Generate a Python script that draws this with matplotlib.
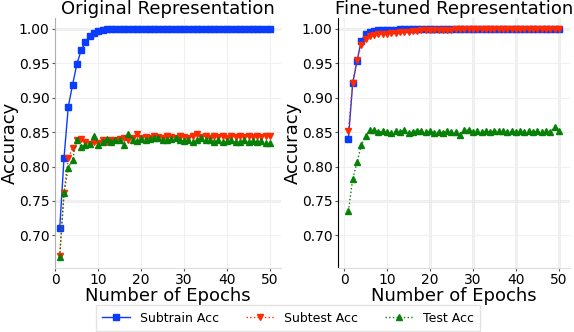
import numpy as np
import matplotlib
matplotlib.use("Agg")
import matplotlib.pyplot as plt

epochs = list(range(1, 51))

# original representation
orig_subtrain = [0.710, 0.812, 0.887, 0.919, 0.949, 0.969, 0.981, 0.990, 0.994, 0.997,
                 0.999, 0.9995] + [1.0] * 38
orig_subtest = [0.670, 0.762, 0.812, 0.827, 0.838, 0.840, 0.836, 0.833, 0.836, 0.834,
                0.838, 0.836, 0.839, 0.838, 0.840, 0.842, 0.838, 0.841, 0.847, 0.842,
                0.843, 0.841, 0.845, 0.843, 0.842, 0.844, 0.843, 0.842, 0.845, 0.843,
                0.842, 0.844, 0.847, 0.843, 0.844, 0.842, 0.845, 0.843, 0.844, 0.842,
                0.844, 0.843, 0.844, 0.843, 0.844, 0.843, 0.844, 0.843, 0.844, 0.845]
orig_test = [0.669, 0.762, 0.798, 0.810, 0.839, 0.829, 0.832, 0.833, 0.845, 0.832,
             0.835, 0.840, 0.835, 0.838, 0.838, 0.831, 0.847, 0.838, 0.837, 0.840,
             0.839, 0.840, 0.841, 0.841, 0.838, 0.838, 0.840, 0.841, 0.838, 0.837,
             0.839, 0.835, 0.838, 0.841, 0.839, 0.839, 0.835, 0.838, 0.836, 0.837,
             0.838, 0.835, 0.836, 0.838, 0.836, 0.837, 0.836, 0.837, 0.834, 0.834]

# fine-tuned representation
ft_subtrain = [0.840, 0.921, 0.953, 0.983, 0.993, 0.996, 0.997, 0.998, 0.998, 0.999,
               0.999, 0.999, 0.9995, 0.9995, 0.9995] + [1.0] * 35
ft_subtest = [0.851, 0.922, 0.955, 0.977, 0.986, 0.990, 0.991, 0.992, 0.992, 0.993,
              0.994, 0.994, 0.995, 0.996, 0.996, 0.997, 0.997, 0.998, 0.998, 0.998,
              0.9985, 0.999, 0.999, 0.999, 0.999] + [0.9995] * 25
ft_test = [0.735, 0.782, 0.806, 0.831, 0.844, 0.853, 0.853, 0.850, 0.851, 0.850,
           0.849, 0.851, 0.850, 0.853, 0.849, 0.850, 0.852, 0.851, 0.850, 0.851,
           0.849, 0.850, 0.849, 0.851, 0.850, 0.850, 0.846, 0.853, 0.853, 0.850,
           0.851, 0.850, 0.851, 0.850, 0.851, 0.852, 0.851, 0.850, 0.851, 0.850,
           0.852, 0.850, 0.851, 0.850, 0.851, 0.850, 0.851, 0.850, 0.857, 0.851]

titles = ["Original Representation", "Fine-tuned Representation"]
yticks = [0.70, 0.75, 0.80, 0.85, 0.90, 0.95, 1.00]
xticks = [0, 10, 20, 30, 40, 50]

c_blue = "#0a3cff"
c_red = "#ff2a00"
c_green = "#078007"

plt.rcParams['font.family'] = ['DejaVu Sans']
fig = plt.figure(figsize=(5.74, 3.32), dpi=100)
ax1 = fig.add_axes([0.0958, 0.193, 0.394, 0.753])
ax2 = fig.add_axes([0.589, 0.193, 0.404, 0.753])

data = [(orig_subtrain, orig_subtest, orig_test), (ft_subtrain, ft_subtest, ft_test)]
for i, (ax, (tr, st, te)) in enumerate(zip([ax1, ax2], data)):
    ax.grid(True, color="#f0f0f0", lw=0.8, zorder=0)
    ax.axhline(1.0, color="#b0b0b0", lw=1.0, zorder=1)
    ax.axhline(0.75, color="#b0b0b0", lw=1.0, zorder=1)
    if i == 1:
        for xv in xticks[2:]:
            ax.axvline(xv, color="#b0b0b0", lw=1.0, zorder=1)
    l1, = ax.plot(epochs, tr, '-', color=c_blue, marker='s', ms=4.5, lw=1.0,
                  label="Subtrain Acc", zorder=3)
    l2, = ax.plot(epochs, st, ':', color=c_red, marker='v', ms=4.5, lw=1.0,
                  label="Subtest Acc", zorder=4)
    l3, = ax.plot(epochs, te, ':', color=c_green, marker='^', ms=4.5, lw=1.0,
                  label="Test Acc", zorder=4)
    ax.set_title(titles[i], fontsize=13, pad=2)
    ax.set_ylim(0.6526, 1.016)
    ax.set_yticks(yticks)
    ax.set_yticklabels(["%.2f" % v for v in yticks])
    ax.set_xticks(xticks)
    ax.set_xlabel("Number of Epochs", fontsize=13, labelpad=0)
    ax.set_ylabel("Accuracy", fontsize=13, labelpad=0)
    ax.tick_params(labelsize=10, length=2.5, width=0.8, pad=1.5, color="#555555")
    for s in ["top", "right"]:
        ax.spines[s].set_visible(False)
    ax.spines["bottom"].set_color("#dddddd")
    ax.spines["left"].set_color("#b0b0b0" if i == 0 else "black")

ax1.set_xlim(-0.1, 52.6)
ax2.set_xlim(-1.4, 52.6)

fig.legend(handles=[l1, l2, l3], loc="lower center", bbox_to_anchor=(0.502, 0.0),
           ncol=3, fontsize=9, frameon=True, fancybox=False, edgecolor="#dddddd",
           borderaxespad=0.1, borderpad=0.5, handlelength=2.2, columnspacing=2.2)

fig.savefig("out.png", dpi=100)
